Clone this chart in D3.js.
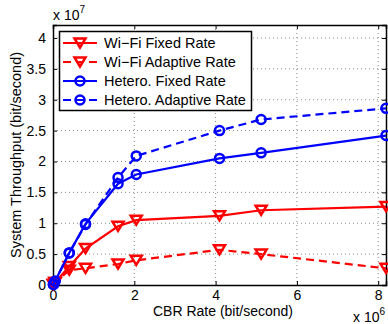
<!DOCTYPE html>
<html>
<head>
<meta charset="utf-8">
<script src="https://cdn.jsdelivr.net/npm/d3@7"></script>
<style>
  body { margin: 0; background: #fff; }
  text { font-family: "Liberation Sans", Arial, sans-serif; }
</style>
</head>
<body>
<svg id="chart" width="388" height="324"></svg>
<script>
// CBR rate (x 1e6 bit/s)
var rates = [0.01, 0.05, 0.4, 0.8, 1.6, 2.048, 4.096, 5.12, 8.192];
// throughput (x 1e7 bit/s)
var wifiFixed    = [0.01, 0.04, 0.30, 0.59, 0.95, 1.05, 1.12, 1.21, 1.27];
var wifiAdaptive = [0.01, 0.04, 0.24, 0.27, 0.34, 0.40, 0.57, 0.50, 0.27];
var hetFixed     = [0.01, 0.06, 0.52, 0.99, 1.64, 1.79, 2.05, 2.14, 2.42];
var hetAdaptive  = [0.01, 0.06, 0.52, 0.98, 1.74, 2.09, 2.50, 2.68, 2.86];
var xTicks = [0, 2, 4, 6, 8];
var yTicks = [0, 0.5, 1, 1.5, 2, 2.5, 3, 3.5, 4];

var series = [
    { name: "Wi\u2212Fi Fixed Rate", values: wifiFixed, color: "#ff0000", dash: null, marker: "tri" },
    { name: "Wi\u2212Fi Adaptive Rate", values: wifiAdaptive, color: "#ff0000", dash: "8,5", marker: "tri" },
    { name: "Hetero. Fixed Rate", values: hetFixed, color: "#0000ff", dash: null, marker: "circ" },
    { name: "Hetero. Adaptive Rate", values: hetAdaptive, color: "#0000ff", dash: "8,5", marker: "circ" }
];

var svg = d3.select("#chart"),
    pLeft = 53, pRight = 386, pTop = 25, pBottom = 285;

var x = d3.scaleLinear().domain([0, 8.192]).range([pLeft, pRight]);
var y = d3.scaleLinear().domain([0, 4.21]).range([pBottom, pTop]);

// grid
var grid = svg.append("g");
grid.selectAll(".gx").data(xTicks.slice(1)).enter().append("line")
    .attr("x1", function (d) { return x(d); }).attr("x2", function (d) { return x(d); })
    .attr("y1", pTop).attr("y2", pBottom)
    .attr("stroke", "#888").attr("stroke-width", 1).attr("stroke-dasharray", "1,3");
grid.selectAll(".gy").data(yTicks.slice(1)).enter().append("line")
    .attr("y1", function (d) { return y(d); }).attr("y2", function (d) { return y(d); })
    .attr("x1", pLeft).attr("x2", pRight)
    .attr("stroke", "#888").attr("stroke-width", 1).attr("stroke-dasharray", "1,3");

// axes (ticks inward)
var xAxis = d3.axisBottom(x).tickValues(xTicks).tickSize(-4).tickPadding(5).tickFormat(d3.format("d"));
var yAxis = d3.axisLeft(y).tickValues(yTicks).tickSize(-4).tickPadding(7).tickFormat(function (d) { return d; });

svg.append("g").attr("transform", "translate(0," + pBottom + ")").call(xAxis);
svg.append("g").attr("transform", "translate(" + pLeft + ",0)").call(yAxis);
svg.append("g").attr("transform", "translate(0," + pTop + ")")
    .call(d3.axisTop(x).tickValues(xTicks).tickSize(-4).tickFormat(""));
svg.append("g").attr("transform", "translate(" + pRight + ",0)")
    .call(d3.axisRight(y).tickValues(yTicks).tickSize(-4).tickFormat(""));

svg.selectAll(".domain").attr("stroke", "#000").attr("stroke-width", 1.5);
svg.selectAll(".tick line").attr("stroke", "#000");
svg.selectAll(".tick text").attr("font-size", 14).attr("fill", "#000").attr("font-family", "Liberation Sans, Arial, sans-serif");

// lines
var line = d3.line()
    .x(function (d, i) { return x(rates[i]); })
    .y(function (d) { return y(d); });

var triPath = "M-5.5,-4.5L5.5,-4.5L0,4.5Z";

function drawMarker(g, s) {
    if (s.marker == "tri") {
        g.append("path").attr("d", triPath)
            .attr("fill", "none").attr("stroke", s.color).attr("stroke-width", 2.5)
            .attr("stroke-linejoin", "miter");
    } else {
        g.append("circle").attr("r", 4.5)
            .attr("fill", "none").attr("stroke", s.color).attr("stroke-width", 2.5);
    }
}

series.forEach(function (s) {
    svg.append("path")
        .attr("d", line(s.values))
        .attr("fill", "none")
        .attr("stroke", s.color)
        .attr("stroke-width", 2.2)
        .attr("stroke-dasharray", s.dash);
    s.values.forEach(function (v, i) {
        var g = svg.append("g").attr("transform", "translate(" + x(rates[i]) + "," + y(v) + ")");
        drawMarker(g, s);
    });
});

// legend
var lg = svg.append("g");
lg.append("rect").attr("x", 59.5).attr("y", 31.5).attr("width", 192).attr("height", 79)
    .attr("fill", "#fff").attr("stroke", "#000").attr("stroke-width", 1.5);
series.forEach(function (s, i) {
    var yy = 43 + i * 19;
    lg.append("line").attr("x1", 63).attr("x2", 97).attr("y1", yy).attr("y2", yy)
        .attr("stroke", s.color).attr("stroke-width", 2.2).attr("stroke-dasharray", s.dash);
    drawMarker(lg.append("g").attr("transform", "translate(80," + yy + ")"), s);
    lg.append("text").attr("x", 104).attr("y", yy + 5).attr("font-size", 14.5).text(s.name);
});

// labels
svg.append("text").attr("x", 223).attr("y", 316).attr("text-anchor", "middle")
    .attr("font-size", 14).text("CBR Rate (bit/second)");
svg.append("text").attr("transform", "translate(21,155) rotate(-90)").attr("text-anchor", "middle")
    .attr("font-size", 14.5).text("System Throughput (bit/second)");

var e7 = svg.append("text").attr("x", 53).attr("y", 20).attr("font-size", 14);
e7.append("tspan").text("x 10");
e7.append("tspan").attr("dy", -7).attr("font-size", 10).text("7");

var e6 = svg.append("text").attr("x", 353).attr("y", 322).attr("font-size", 14);
e6.append("tspan").text("x 10");
e6.append("tspan").attr("dy", -7).attr("font-size", 10).text("6");
</script>
</body>
</html>
